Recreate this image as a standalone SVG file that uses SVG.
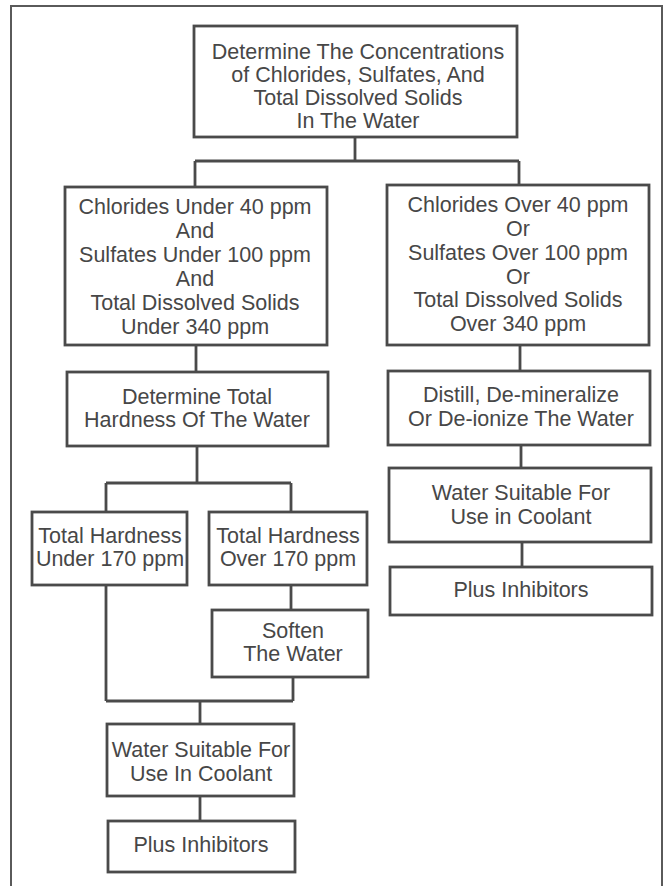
<svg xmlns="http://www.w3.org/2000/svg" width="663" height="886" viewBox="0 0 663 886">
<style>
.bg{fill:#ffffff}
.frame{fill:none;stroke:#5a5a5a;stroke-width:2}
.box{fill:#ffffff;stroke:#4a4a4a;stroke-width:2.8}
.conn{fill:none;stroke:#4a4a4a;stroke-width:2.8}
text{font-family:"Liberation Sans",Arial,sans-serif;font-size:21.5px;fill:#474747;text-anchor:middle}
</style>
<rect class="bg" x="0" y="0" width="663" height="886"/>
<rect class="frame" x="11" y="6" width="651" height="900"/>
<g id="connectors">
<path class="conn" d="M355,137 V161 M195,161 H519 M195,161 V187 M519,161 V185"/>
<path class="conn" d="M196,345 V372"/>
<path class="conn" d="M197,446 V483 M106,483 H291 M106,483 V512 M291,483 V512"/>
<path class="conn" d="M291,585 V610"/>
<path class="conn" d="M106,585 V701 M293,677 V701 M106,701 H293 M200,701 V724"/>
<path class="conn" d="M200,796 V821"/>
<path class="conn" d="M520,345 V371"/>
<path class="conn" d="M521,445 V468"/>
<path class="conn" d="M522,542 V567"/>
</g>
<g id="n1">
<rect class="box" x="194" y="26" width="323" height="111"/>
<text x="358" y="59">Determine The Concentrations</text>
<text x="358" y="82">of Chlorides, Sulfates, And</text>
<text x="358" y="105">Total Dissolved Solids</text>
<text x="358" y="128">In The Water</text>
</g>
<g id="n2">
<rect class="box" x="65" y="187" width="262" height="158"/>
<text x="195" y="214">Chlorides Under 40 ppm</text>
<text x="195" y="238">And</text>
<text x="195" y="262">Sulfates Under 100 ppm</text>
<text x="195" y="286">And</text>
<text x="195" y="310">Total Dissolved Solids</text>
<text x="195" y="334">Under 340 ppm</text>
</g>
<g id="n3">
<rect class="box" x="387" y="185" width="262" height="160"/>
<text x="518" y="212">Chlorides Over 40 ppm</text>
<text x="518" y="236">Or</text>
<text x="518" y="260">Sulfates Over 100 ppm</text>
<text x="518" y="284">Or</text>
<text x="518" y="307">Total Dissolved Solids</text>
<text x="518" y="331">Over 340 ppm</text>
</g>
<g id="n4">
<rect class="box" x="67" y="372" width="261" height="74"/>
<text x="197" y="404">Determine Total</text>
<text x="197" y="427">Hardness Of The Water</text>
</g>
<g id="n5">
<rect class="box" x="388" y="371" width="262" height="74"/>
<text x="521" y="402">Distill, De-mineralize</text>
<text x="521" y="426">Or De-ionize The Water</text>
</g>
<g id="n6">
<rect class="box" x="32" y="512" width="155" height="73"/>
<text x="110" y="543">Total Hardness</text>
<text x="110" y="566">Under 170 ppm</text>
</g>
<g id="n7">
<rect class="box" x="209" y="512" width="158" height="73"/>
<text x="288" y="543">Total Hardness</text>
<text x="288" y="566">Over 170 ppm</text>
</g>
<g id="n8">
<rect class="box" x="389" y="468" width="262" height="74"/>
<text x="521" y="500">Water Suitable For</text>
<text x="521" y="524">Use in Coolant</text>
</g>
<g id="n9">
<rect class="box" x="390" y="567" width="262" height="48"/>
<text x="521" y="597">Plus Inhibitors</text>
</g>
<g id="n10">
<rect class="box" x="212" y="610" width="156" height="67"/>
<text x="293" y="638">Soften</text>
<text x="293" y="661">The Water</text>
</g>
<g id="n11">
<rect class="box" x="107" y="724" width="187" height="72"/>
<text x="201" y="757">Water Suitable For</text>
<text x="201" y="781">Use In Coolant</text>
</g>
<g id="n12">
<rect class="box" x="108" y="821" width="187" height="51"/>
<text x="201" y="852">Plus Inhibitors</text>
</g>
</svg>
